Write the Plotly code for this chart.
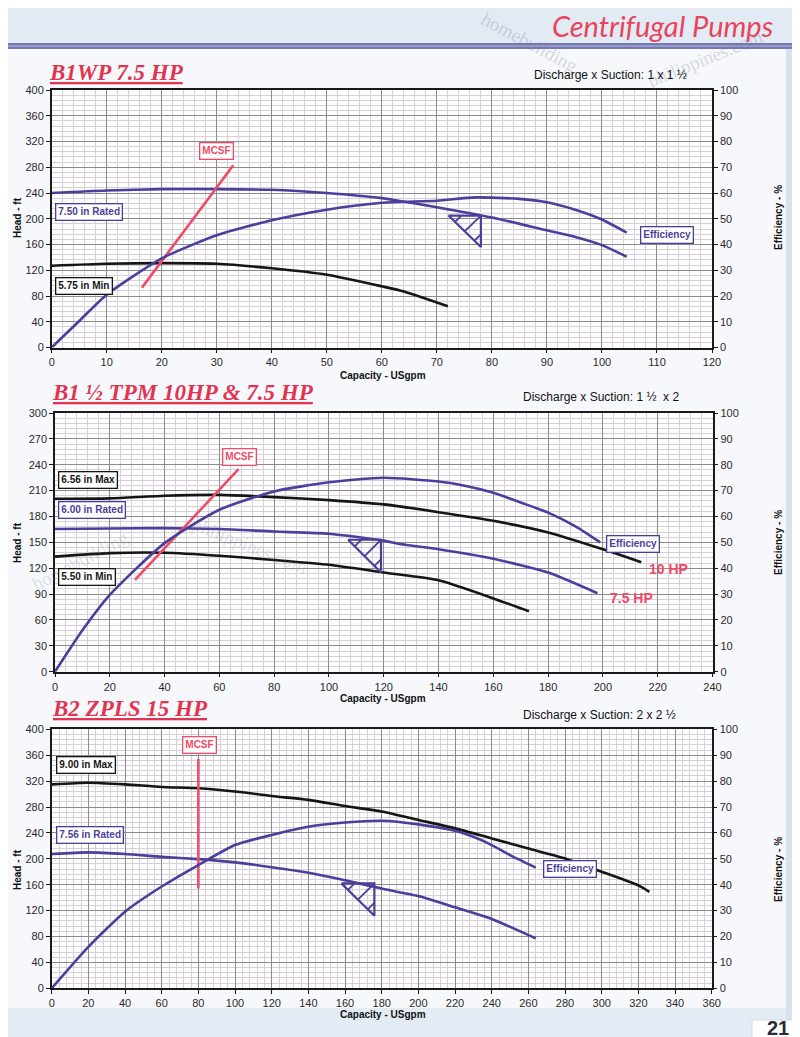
import plotly.graph_objects as go

# ---------------- B1WP 7.5 HP ----------------
b1wp_rated_q = [0, 10, 20, 30, 40, 50, 60, 63, 70, 80, 90, 95, 100, 104.5]
b1wp_rated_h = [240, 244, 246, 246, 245, 240, 232, 228, 218, 202, 182, 172, 159, 141]
b1wp_min_q = [0, 10, 20, 30, 40, 50, 60, 64, 72]
b1wp_min_h = [127, 130, 131, 130, 123, 113, 95, 87, 64]
b1wp_eff_q = [0, 5, 10, 20, 30, 40, 50, 60, 70, 77, 85, 90, 95, 100, 104.5]
b1wp_eff = [0, 10.3, 20.5, 34.6, 43.6, 49.4, 53.5, 56.2, 57.0, 58.3, 57.7, 56.4, 53.6, 49.7, 44.6]
b1wp_mcsf_q = [16.4, 33]
b1wp_mcsf_h = [93, 283]
b1wp_npsh_q = [72.1, 78, 78]
b1wp_npsh_h = [205, 205, 156]

# ---------------- B1 1/2 TPM 10HP & 7.5 HP ----------------
tpm_max_q = [0, 20, 40, 60, 80, 100, 120, 140, 160, 180, 200, 214]
tpm_max_h = [200.5, 201, 204, 205, 202.5, 199, 194, 185, 175, 161.5, 142, 127]
tpm_rated_q = [0, 20, 40, 60, 80, 100, 120, 126, 140, 160, 180, 198]
tpm_rated_h = [165.5, 166, 166.5, 165.5, 162.5, 160, 152, 148, 142, 131, 115, 91]
tpm_min_q = [0, 20, 40, 60, 80, 100, 120, 140, 160, 173]
tpm_min_h = [133.5, 137.5, 138, 134.5, 129.5, 124, 115, 106, 85, 70]
tpm_eff_q = [0, 10, 20, 40, 60, 80, 100, 120, 140, 150, 160, 170, 180, 190, 199]
tpm_eff = [0, 16, 29.7, 49.7, 62.6, 69.7, 73.2, 75.0, 73.5, 71.8, 69.2, 65.4, 61.5, 56.2, 50.0]
tpm_mcsf_q = [29.2, 67]
tpm_mcsf_h = [106.5, 235]
tpm_npsh_q = [107, 119, 119]
tpm_npsh_h = [153, 153, 115]

# ---------------- B2 ZPLS 15 HP ----------------
zpls_max_q = [0, 20, 40, 60, 80, 100, 120, 140, 160, 180, 200, 220, 240, 260, 280, 300, 320, 326]
zpls_max_h = [315, 317.5, 315, 311, 309, 304, 297, 291, 281.5, 273, 260, 247, 231.5, 216, 200.5, 180, 159, 149]
zpls_rated_q = [0, 20, 40, 60, 80, 100, 120, 140, 160, 180, 200, 220, 240, 264]
zpls_rated_h = [207.5, 210, 207.5, 203, 199.5, 194.5, 187, 178.5, 167, 154, 142.5, 125, 107, 77]
zpls_eff_q = [0, 20, 40, 60, 80, 100, 120, 140, 160, 180, 200, 220, 230, 240, 250, 264]
zpls_eff = [0, 16, 29.6, 39.3, 47.6, 55.3, 59.2, 62.4, 64.0, 64.7, 63.3, 60.8, 58.5, 55.3, 51.4, 46.6]
zpls_mcsf_q = [80, 80]
zpls_mcsf_h = [154, 354]
zpls_npsh_q = [158, 176, 176]
zpls_npsh_h = [162, 162, 112]

W, H = 800, 1037
OFF = 8  # page body margin of the browser
PURPLE = '#4a3f9c'
BLACK = '#151515'
RED = '#ef4a66'
TICKFONT = dict(family='Liberation Sans, Arial', size=11, color='#2a2a2a')


def px(x):
    return (x - OFF) / W


def py(y):
    return 1 - (y - OFF) / H


def hatch(q, h, fracs=(0.2, 0.5, 0.8)):
    # little hatch strokes inside the NPSH triangle
    xs, ys = [], []
    for t in fracs:
        x0 = q[0] + t * (q[2] - q[0])
        y0 = h[0] + t * (h[2] - h[0])
        if t <= 0.5:
            x1, y1 = q[0] + 2 * t * (q[1] - q[0]), h[0]
        else:
            x1, y1 = q[1], h[1] + (2 * t - 1) * (h[2] - h[1])
        xs += [x0, x1, None]
        ys += [y0, y1, None]
    return xs, ys


fig = go.Figure()


def add_chart(xa, ya, ea, curves, eff_q, eff, mcsf_q, mcsf_h, npsh_q, npsh_h):
    for q, hd, col in curves:
        fig.add_trace(go.Scatter(x=q, y=hd, mode='lines', xaxis=xa, yaxis=ya,
                                 line=dict(color=col, width=2.6, shape='spline', smoothing=0.6)))
    fig.add_trace(go.Scatter(x=eff_q, y=eff, mode='lines', xaxis=xa, yaxis=ea,
                             line=dict(color=PURPLE, width=2.6, shape='spline', smoothing=0.6)))
    fig.add_trace(go.Scatter(x=mcsf_q, y=mcsf_h, mode='lines', xaxis=xa, yaxis=ya,
                             line=dict(color=RED, width=2.6)))
    fig.add_trace(go.Scatter(x=npsh_q + [npsh_q[0]], y=npsh_h + [npsh_h[0]], mode='lines',
                             xaxis=xa, yaxis=ya, line=dict(color=PURPLE, width=2.2)))
    hx, hy = hatch(npsh_q, npsh_h)
    fig.add_trace(go.Scatter(x=hx, y=hy, mode='lines', xaxis=xa, yaxis=ya,
                             line=dict(color=PURPLE, width=1.8)))


add_chart('x', 'y', 'y2',
          [(b1wp_rated_q, b1wp_rated_h, PURPLE), (b1wp_min_q, b1wp_min_h, BLACK)],
          b1wp_eff_q, b1wp_eff, b1wp_mcsf_q, b1wp_mcsf_h, b1wp_npsh_q, b1wp_npsh_h)
add_chart('x2', 'y3', 'y4',
          [(tpm_max_q, tpm_max_h, BLACK), (tpm_rated_q, tpm_rated_h, PURPLE), (tpm_min_q, tpm_min_h, BLACK)],
          tpm_eff_q, tpm_eff, tpm_mcsf_q, tpm_mcsf_h, tpm_npsh_q, tpm_npsh_h)
add_chart('x3', 'y5', 'y6',
          [(zpls_max_q, zpls_max_h, BLACK), (zpls_rated_q, zpls_rated_h, PURPLE)],
          zpls_eff_q, zpls_eff, zpls_mcsf_q, zpls_mcsf_h, zpls_npsh_q, zpls_npsh_h)


def xaxis(dom, anchor, rng, dt, mdt):
    return dict(domain=dom, anchor=anchor, range=rng, dtick=dt, tick0=0,
                showgrid=True, gridcolor='#8c8c8c', gridwidth=1,
                minor=dict(dtick=mdt, showgrid=True, gridcolor='#d8d0d8', gridwidth=1),
                showline=True, linecolor='#1a1a1a', linewidth=1.5, mirror=True,
                ticks='outside', ticklen=4, tickcolor='#1a1a1a', tickfont=TICKFONT,
                zeroline=False, fixedrange=True, automargin=False)


def effaxis(over, anchor):
    return dict(overlaying=over, anchor=anchor, side='right', range=[0, 100], dtick=10,
                showgrid=False, showline=True, linecolor='#1a1a1a', linewidth=1.5,
                ticks='outside', ticklen=4, tickcolor='#1a1a1a', tickfont=TICKFONT,
                zeroline=False, fixedrange=True, automargin=False)


fig.update_layout(
    width=W, height=H, margin=dict(l=0, r=0, t=0, b=0, pad=0, autoexpand=False), showlegend=False,
    paper_bgcolor='#f6f8fb', plot_bgcolor='#fdfdfd',
    xaxis=xaxis([px(51.7), px(712)], 'y', [0, 120], 10, 2),
    yaxis=xaxis([py(347.5), py(90)], 'x', [0, 400], 40, 8),
    yaxis2=effaxis('y', 'x'),
    xaxis2=xaxis([px(55), px(712.5)], 'y3', [0, 240], 20, 4),
    yaxis3=xaxis([py(671.7), py(413)], 'x2', [0, 300], 30, 6),
    yaxis4=effaxis('y3', 'x2'),
    xaxis3=xaxis([px(51.7), px(711.7)], 'y5', [0, 360], 20, 4),
    yaxis5=xaxis([py(988.3), py(729.3)], 'x3', [0, 400], 40, 8),
    yaxis6=effaxis('y5', 'x3'),
)

# page decoration
shapes = [
    dict(type='rect', xref='paper', yref='paper', x0=0, x1=1, y0=py(43), y1=1,
         fillcolor='#e2eaf4', line_width=0, layer='below'),
    dict(type='rect', xref='paper', yref='paper', x0=0, x1=1, y0=py(49), y1=py(43),
         fillcolor='#7478b4', line_width=0, layer='below'),
    dict(type='line', xref='paper', yref='paper', x0=0, x1=1, y0=py(46), y1=py(46),
         line=dict(color='#b9bde0', width=1), layer='below'),
    dict(type='rect', xref='paper', yref='paper', x0=px(786), x1=1, y0=0, y1=py(49),
         fillcolor='#d6e2ef', line_width=0, layer='below'),
    dict(type='rect', xref='paper', yref='paper', x0=0, x1=px(786), y0=0, y1=py(1008),
         fillcolor='#e3ebf4', line_width=0, layer='below'),
    dict(type='rect', xref='paper', yref='paper', x0=px(752), x1=1, y0=0, y1=py(1020),
         fillcolor='#ffffff', line=dict(color='#d0d8e2', width=1), layer='below'),
]
fig.update_layout(shapes=shapes)

ann = []


def text(x, y, s, size=11, color='#111', bold=False, xanchor='center', angle=0, family='Liberation Sans, Arial'):
    ann.append(dict(xref='paper', yref='paper', x=px(x), y=py(y), text=f'<b>{s}</b>' if bold else s,
                    showarrow=False, xanchor=xanchor, yanchor='middle', textangle=angle,
                    font=dict(family=family, size=size, color=color)))


def box(xa, ya, x, y, s, color, xanchor='left', size=10):
    ann.append(dict(xref=xa, yref=ya, x=x, y=y, text=f'<b>{s}</b>', showarrow=False,
                    xanchor=xanchor, yanchor='middle', bgcolor='#ffffff', bordercolor=color,
                    borderwidth=1.3, borderpad=2, font=dict(family='Liberation Sans, Arial', size=size, color=color)))


# header + faint watermarks
WM = 'rgba(110,115,140,0.26)'
text(530, 42, 'homebuilding', size=19, color=WM, angle=28, family='Liberation Serif')
text(705, 58, 'philippines.com', size=19, color=WM, angle=-22, family='Liberation Serif')
text(662, 25, '<i>Centrifugal Pumps</i>', size=29, color='#e8445c', family='Lato')
text(80, 560, 'homebuilding', size=19, color='rgba(110,115,140,0.2)', angle=-28, family='Liberation Serif')
text(250, 545, 'philippines.com', size=19, color='rgba(110,115,140,0.2)', angle=22, family='Liberation Serif')
text(778, 1028, '<b>21</b>', size=20, color='#2a2a3a')

# chart titles
SERIF = 'Liberation Serif, Times New Roman'
text(47, 73, '<b><i><u>B1WP 7.5 HP</u></i></b>', size=23, color='#e23450', xanchor='left', family=SERIF)
text(50, 393, '<b><i><u>B1 ½ TPM 10HP &amp; 7.5 HP</u></i></b>', size=23, color='#e23450', xanchor='left', family=SERIF)
text(50, 708, '<b><i><u>B2 ZPLS 15 HP</u></i></b>', size=23, color='#e23450', xanchor='left', family=SERIF)

text(610, 75, 'Discharge x Suction: 1 x 1 ½', size=12)
text(601, 397, 'Discharge x Suction: 1 ½  x 2', size=12)
text(599, 715, 'Discharge x Suction: 2 x 2 ½', size=12)

# axis titles
for yc, yb in [(218, 375), (543, 698), (870, 1014)]:
    text(17, yc, 'Head - ft', size=10, bold=True, angle=-90)
    text(778, yc, 'Efficiency - %', size=10, bold=True, angle=-90)
    text(383, yb, 'Capacity - USgpm', size=10, bold=True)

# curve labels chart 1
box('x', 'y', 0.6, 210, '7.50 in Rated', PURPLE)
box('x', 'y', 0.6, 96, '5.75 in Min', BLACK)
box('x', 'y', 30, 305, 'MCSF', RED, xanchor='center')
box('x', 'y', 107, 175, 'Efficiency', PURPLE)

# chart 2
box('x2', 'y3', 1.2, 222, '6.56 in Max', BLACK)
box('x2', 'y3', 1.2, 187, '6.00 in Rated', PURPLE)
box('x2', 'y3', 1.2, 110, '5.50 in Min', BLACK)
box('x2', 'y3', 67.5, 249, 'MCSF', RED, xanchor='center')
box('x2', 'y3', 201, 148, 'Efficiency', PURPLE)
ann.append(dict(xref='x2', yref='y3', x=216, y=119, text='<b>10 HP</b>', showarrow=False, xanchor='left',
                font=dict(family='Liberation Sans, Arial', size=14, color=RED)))
ann.append(dict(xref='x2', yref='y3', x=202, y=86, text='<b>7.5 HP</b>', showarrow=False, xanchor='left',
                font=dict(family='Liberation Sans, Arial', size=14, color=RED)))

# chart 3
box('x3', 'y5', 2.4, 345, '9.00 in Max', BLACK)
box('x3', 'y5', 2.4, 237, '7.56 in Rated', PURPLE)
box('x3', 'y5', 80.5, 375, 'MCSF', RED, xanchor='center')
box('x3', 'y5', 268, 185, 'Efficiency', PURPLE)

fig.update_layout(annotations=ann)

fig.write_html("out.html")
